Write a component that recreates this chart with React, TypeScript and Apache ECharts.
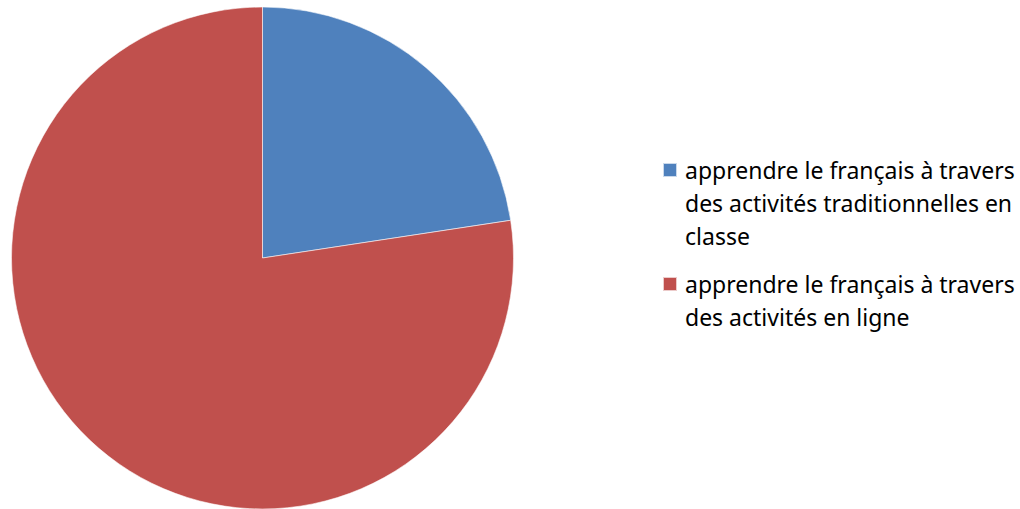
import React, { useEffect, useRef } from "react";
import * as echarts from "echarts";

const categories = [
  "apprendre le français à travers des activités traditionnelles en classe",
  "apprendre le français à travers des activités en ligne",
];
const values = [22.6, 77.4];
const colors = ["#4F81BD", "#C0504D"];
const legendLines = [
  ["apprendre le français à travers", "des activités traditionnelles en", "classe"],
  ["apprendre le français à travers", "des activités en ligne"],
];

const LH = 33;

function legendFor(i: number, iconCenterY: number) {
  const lines = legendLines[i];
  const pad = lines.length - 1;
  const total = lines.length + pad;
  const text = "\n".repeat(pad) + lines.join("\n");
  return {
    orient: "vertical" as const,
    left: 662,
    top: iconCenterY - (total * LH) / 2,
    padding: 0,
    itemWidth: 14,
    itemHeight: 14,
    icon: "rect",
    selectedMode: false,
    data: [categories[i]],
    formatter: () => text,
    textStyle: {
      fontFamily: "'Noto Sans', sans-serif",
      fontSize: 23,
      lineHeight: LH,
      color: "#000",
      padding: [0, 0, 0, 3],
    },
  };
}

export default function App() {
  const ref = useRef<HTMLDivElement>(null);
  useEffect(() => {
    if (!ref.current) return;
    const chart = echarts.init(ref.current, undefined, { renderer: "svg" });
    chart.setOption({
      animation: false,
      backgroundColor: "#fff",
      color: colors,
      legend: [legendFor(0, 170), legendFor(1, 284)],
      series: [
        {
          type: "pie",
          center: [262.5, 258],
          radius: 251,
          startAngle: 90,
          clockwise: true,
          label: { show: false },
          labelLine: { show: false },
          emphasis: { disabled: true },
          itemStyle: { borderColor: "rgba(255,255,255,0.7)", borderWidth: 0.8 },
          data: categories.map((c, i) => ({ name: c, value: values[i] })),
        },
      ],
    });
    return () => chart.dispose();
  }, []);
  return (
    <div
      ref={ref}
      style={{ position: "fixed", left: 0, top: 0, width: 1020, height: 509 }}
    />
  );
}
